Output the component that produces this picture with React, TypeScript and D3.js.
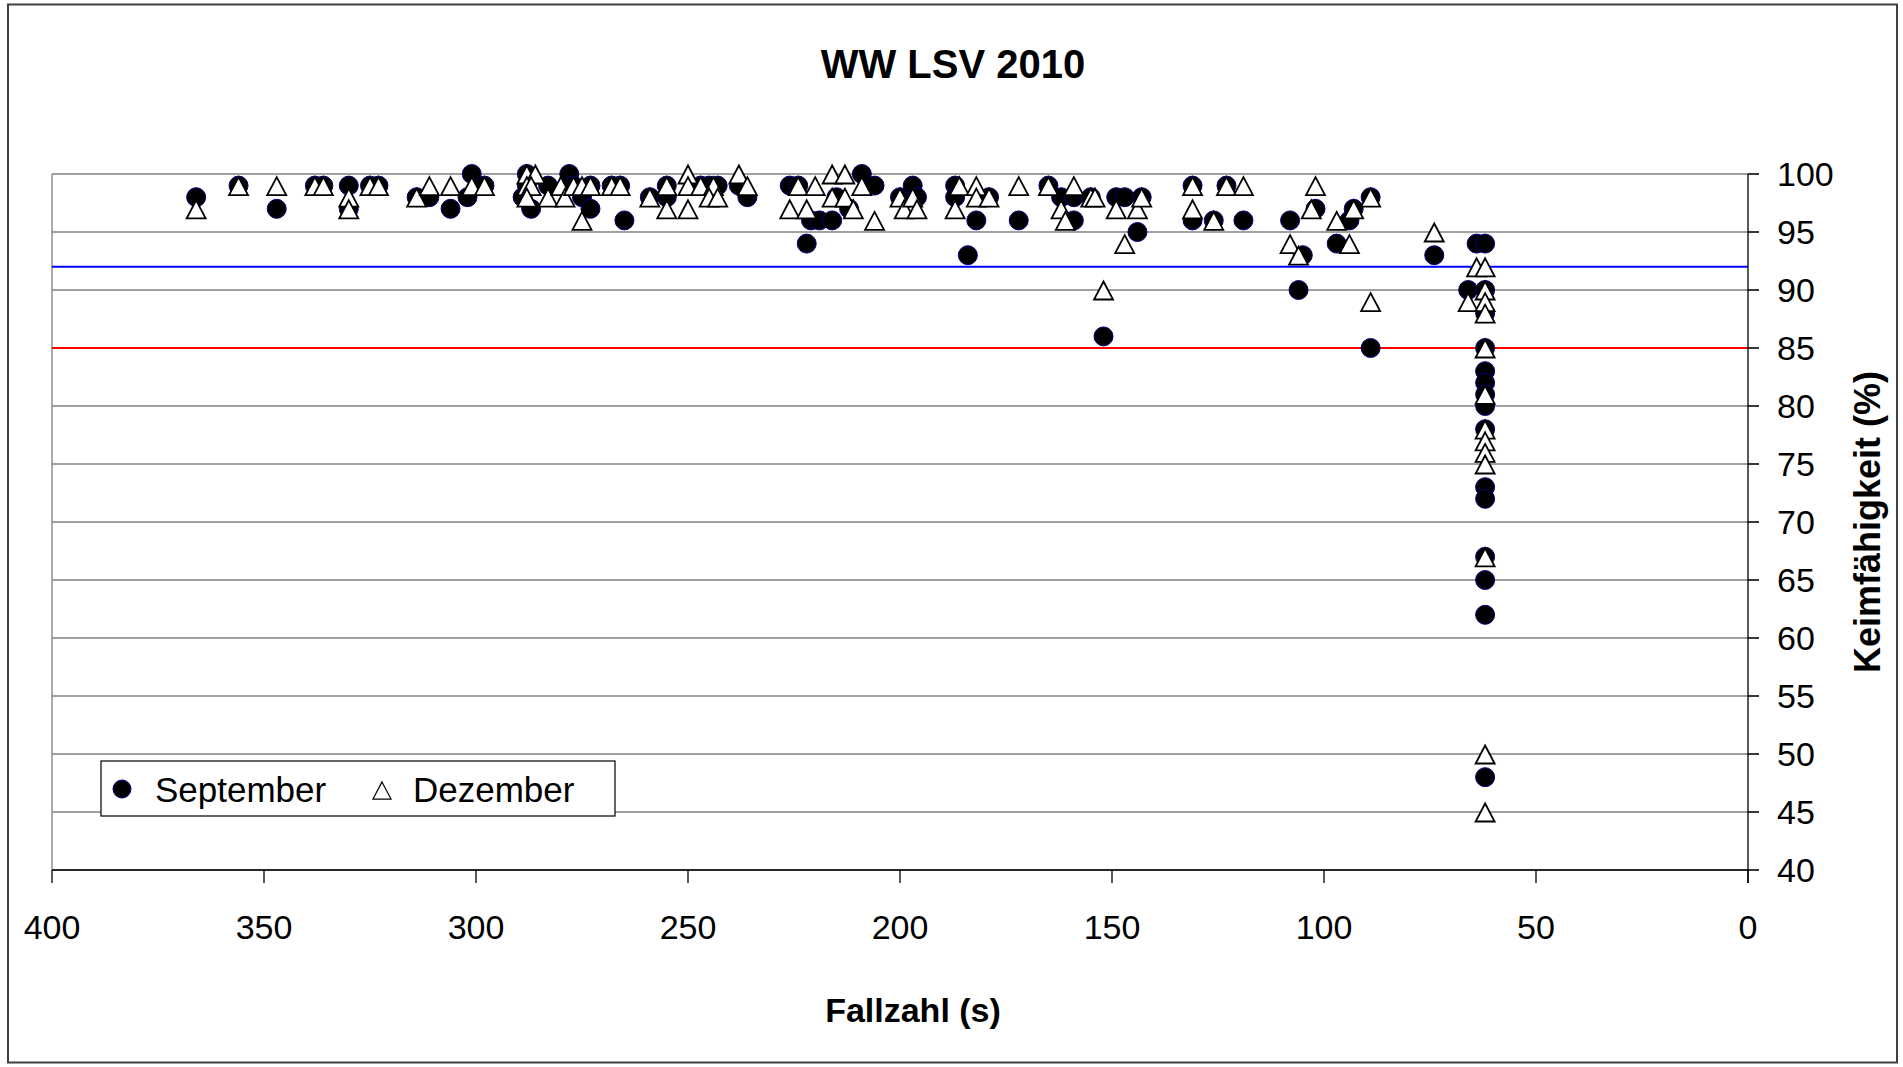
import React from "react";
import * as d3 from "d3";

// Fallzahl (s) and Keimfähigkeit (%) per sample
const septFallzahl = [
  366, 356, 347, 338, 336, 330, 330, 325, 323, 314, 311, 306, 302, 301, 298,
  289, 288, 288, 287, 283, 278, 277, 275, 273, 273, 268, 266, 265, 259, 255, 255,
  247, 245, 243, 238, 236, 226, 224, 222, 221, 219, 216, 215, 212, 209, 206,
  200, 197, 196, 187, 187, 184, 182, 179, 172, 165, 162, 159, 159, 155, 152, 149, 147, 144, 143,
  131, 131, 126, 123, 119, 108, 106, 105, 102, 97, 94, 93, 89, 89, 74,
  64, 62, 66, 62, 62, 62, 62, 62, 62, 62, 62, 62, 62, 62, 62, 62, 62,
];
const septKeim = [
  98, 99, 97, 99, 99, 99, 97, 99, 99, 98, 98, 97, 98, 100, 99,
  98, 100, 99, 97, 99, 100, 99, 98, 99, 97, 99, 99, 96, 98, 99, 98,
  99, 99, 99, 99, 98, 99, 99, 94, 96, 96, 96, 98, 97, 100, 99,
  98, 99, 98, 99, 98, 93, 96, 98, 96, 99, 98, 98, 96, 98, 86, 98, 98, 95, 98,
  99, 96, 96, 99, 96, 96, 90, 93, 97, 94, 96, 97, 98, 85, 93,
  94, 94, 90, 90, 88, 85, 83, 82, 81, 80, 78, 73, 72, 67, 65, 62, 48,
];

const dezFallzahl = [
  366, 356, 347, 338, 336, 330, 330, 325, 323, 314, 311, 306, 301, 298,
  288, 286, 288, 287, 288, 283, 280, 279, 277, 275, 273, 275, 268, 266, 259, 255, 255,
  250, 250, 250, 247, 244, 245, 243, 238, 236, 226, 224, 222, 220, 216, 213, 216, 213, 211, 209, 206,
  200, 199, 197, 196, 187, 186, 182, 182, 179, 172, 165, 162, 161, 159, 155, 154, 152, 149, 147, 144, 143,
  131, 131, 126, 123, 119, 108, 106, 103, 102, 97, 94, 93, 89, 89, 74,
  64, 62, 66, 62, 62, 62, 62, 62, 62, 62, 62, 62, 62, 62, 62,
];
const dezKeim = [
  97, 99, 99, 99, 99, 98, 97, 99, 99, 98, 99, 99, 99, 99,
  100, 100, 99, 99, 98, 98, 99, 98, 99, 99, 99, 96, 99, 99, 98, 99, 97,
  100, 99, 97, 99, 99, 98, 98, 100, 99, 97, 99, 97, 99, 100, 100, 98, 98, 97, 99, 96,
  98, 97, 98, 97, 97, 99, 99, 98, 98, 99, 99, 97, 96, 99, 98, 98, 90, 97, 94, 97, 98,
  99, 97, 96, 99, 99, 94, 93, 97, 99, 96, 94, 97, 98, 89, 95,
  92, 92, 89, 90, 89, 88, 85, 81, 78, 77, 76, 75, 67, 50, 45,
];

const xTicks = [400, 350, 300, 250, 200, 150, 100, 50, 0];
const yTicks = [40, 45, 50, 55, 60, 65, 70, 75, 80, 85, 90, 95, 100];
const limitValues = [92, 85];

const seriesNames = ["September", "Dezember"];

const W = 1903;
const H = 1067;
const FONT = "'Liberation Sans', Arial, sans-serif";
const limitColors = ["#0000ff", "#ff0000"];
const TRI = "M0,-8.5L9.5,9.5L-9.5,9.5Z";

const App = () => {
  const x = d3.scaleLinear().domain([400, 0]).range([52, 1748]);
  const y = d3.scaleLinear().domain([40, 100]).range([870, 174]);

  const sept = septFallzahl.map((f, i) => ({ f, k: septKeim[i] }));
  const dez = dezFallzahl.map((f, i) => ({ f, k: dezKeim[i] }));

  const [x0, x1] = x.range();
  const [yb, yt] = y.range();

  return (
    <svg
      width={W}
      height={H}
      style={{ position: "absolute", left: 0, top: 0, background: "#fff" }}
      fontFamily={FONT}
    >
      <rect x={8} y={4.5} width={1889} height={1058} fill="#fff" stroke="#404040" strokeWidth={2} />

      {/* gridlines */}
      {yTicks.map((t) => (
        <line key={"g" + t} x1={x0} x2={x1 + 11} y1={y(t)} y2={y(t)} stroke="#808080" strokeWidth={1.3} />
      ))}
      <line x1={x0} x2={x0} y1={yt} y2={yb} stroke="#808080" strokeWidth={1.3} />

      {/* limit lines */}
      {limitValues.map((v, i) => (
        <line key={"l" + v} x1={x0} x2={x1} y1={y(v)} y2={y(v)} stroke={limitColors[i]} strokeWidth={2} />
      ))}

      {/* axes */}
      <line x1={x0} x2={x1} y1={yb} y2={yb} stroke="#000" strokeWidth={1.3} />
      <line x1={x1} x2={x1} y1={yt} y2={yb + 13} stroke="#000" strokeWidth={1.3} />
      {xTicks.map((t) => (
        <g key={"x" + t}>
          <line x1={x(t)} x2={x(t)} y1={yb} y2={yb + 13} stroke="#000" strokeWidth={1.3} />
          <text x={x(t)} y={939} textAnchor="middle" fontSize={34}>
            {t}
          </text>
        </g>
      ))}
      {yTicks.map((t) => (
        <g key={"y" + t}>
          <line x1={x1} x2={x1 + 11} y1={y(t)} y2={y(t)} stroke="#000" strokeWidth={1.3} />
          <text x={1777} y={y(t)} dy="0.35em" textAnchor="start" fontSize={34}>
            {t}
          </text>
        </g>
      ))}

      {/* points */}
      {sept.map((d, i) => (
        <circle key={"s" + i} cx={x(d.f)} cy={y(d.k)} r={9.5} fill="#000" stroke="#000080" strokeWidth={1} />
      ))}
      {dez.map((d, i) => (
        <path
          key={"d" + i}
          d={TRI}
          transform={`translate(${x(d.f)},${y(d.k)})`}
          fill="#fff"
          stroke="#000"
          strokeWidth={1.8}
        />
      ))}

      {/* titles */}
      <text x={953} y={78} textAnchor="middle" fontSize={40} fontWeight="bold">
        WW LSV 2010
      </text>
      <text x={913} y={1022} textAnchor="middle" fontSize={34} fontWeight="bold">
        Fallzahl (s)
      </text>
      <text
        transform={`translate(1880,${(yt + yb) / 2}) rotate(-90)`}
        textAnchor="middle"
        fontSize={36}
        fontWeight="bold"
      >
        Keimfähigkeit (%)
      </text>

      {/* legend */}
      <g>
        <rect x={101} y={761} width={514} height={55} fill="#fff" stroke="#000" strokeWidth={1.2} />
        <circle cx={122} cy={789} r={9} fill="#000" stroke="#000080" strokeWidth={1} />
        <text x={155} y={802} fontSize={35}>
          {seriesNames[0]}
        </text>
        <path d={TRI} transform="translate(382,790) scale(0.95)" fill="#fff" stroke="#000" strokeWidth={1.3} />
        <text x={413} y={802} fontSize={35}>
          {seriesNames[1]}
        </text>
      </g>
    </svg>
  );
};

export default App;
